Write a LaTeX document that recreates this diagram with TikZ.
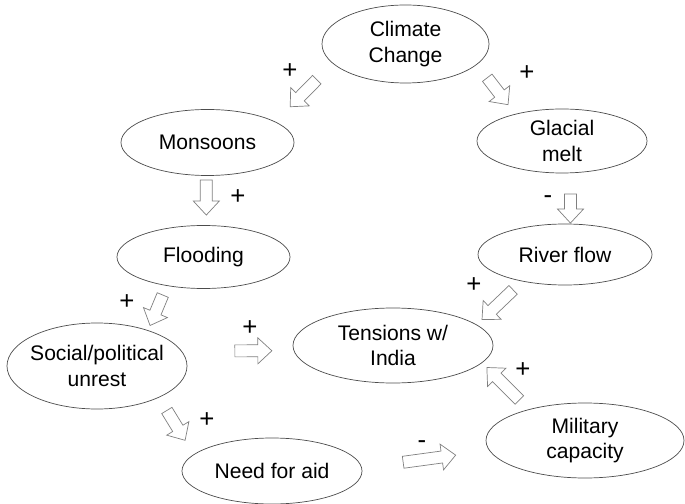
\documentclass[tikz,border=0pt]{standalone}
\usepackage{fontspec}
\setmainfont{Liberation Sans}
\usepackage{tikz}
\usetikzlibrary{calc,shapes.geometric}
\tikzset{barlen/.store in=\barlen, barpos/.store in=\barpos, barlen=35, barpos=0.5}
\tikzstyle{bubble} = [ellipse, draw=black!70, line width=0.6pt, align=center, inner sep=-2cm]
\tikzstyle{sign} = [inner sep=0pt, font=\fontsize{22}{22}\selectfont]
\tikzstyle{barrow} = [draw=black!50, fill=white, line width=0.6pt, miter limit=20,
  to path={let \p1=(\tikztostart), \p2=(\tikztotarget),
    \n1={atan2(\y2-\y1,\x2-\x1)}, \p3=($(\p1)!\barpos!(\p2)$) in
    ($(\p3)+(\n1:-0.5*\barlen)+(\n1+90:6)$) -- ($(\p3)+(\n1:0.5*\barlen-14)+(\n1+90:6)$)
    -- ($(\p3)+(\n1:0.5*\barlen-14)+(\n1+90:13)$) -- ($(\p3)+(\n1:0.5*\barlen)$)
    -- ($(\p3)+(\n1:0.5*\barlen-14)+(\n1-90:13)$) -- ($(\p3)+(\n1:0.5*\barlen-14)+(\n1-90:6)$)
    -- ($(\p3)+(\n1:-0.5*\barlen)+(\n1-90:6)$) -- cycle}]

\begin{document}
\begin{tikzpicture}[x=0.03cm, y=0.03cm, font=\fontsize{18}{21.5}\selectfont]
	\useasboundingbox (0,0) rectangle (685,503);
	\node[bubble, minimum width=5.01cm, minimum height=2.34cm] (cc) at (405.5,459) {Climate\\Change};
	\node[bubble, minimum width=5.19cm, minimum height=1.98cm] (mon) at (207.5,360.5) {Monsoons};
	\node[bubble, minimum width=5.10cm, minimum height=1.92cm] (glac) at (562,362) {Glacial\\melt};
	\node[bubble, minimum width=5.19cm, minimum height=1.89cm] (flood) at (203.5,246) {Flooding};
	\node[bubble, minimum width=5.22cm, minimum height=1.83cm] (river) at (565,248.5) {River flow};
	\node[bubble, minimum width=5.40cm, minimum height=2.58cm] (social) at (97,137) {Social/political\\unrest};
	\node[bubble, minimum width=6.00cm, minimum height=2.25cm] (tens) at (393,157.5) {Tensions w/\\India};
	\node[bubble, minimum width=5.94cm, minimum height=2.25cm] (mil) at (585,62.5) {Military\\capacity};
	\node[bubble, minimum width=5.40cm, minimum height=1.98cm] (need) at (272,32) {Need for aid};

	\node[sign] (plus1) at (290,432) {+};
	\node[sign] (plus2) at (527,430) {+};
	\node[sign] (plus3) at (238,306) {+};
	\node[sign] (minus1) at (548,303) {-};
	\node[sign] (plus4) at (127,201) {+};
	\node[sign] (plus5) at (250,175) {+};
	\node[sign] (plus6) at (474,218) {+};
	\node[sign] (plus7) at (523,133) {+};
	\node[sign] (plus8) at (207,83) {+};
	\node[sign] (minus2) at (422,58) {-};

	\draw[barrow, barlen=38, barpos=0.51] (cc.195) to (mon.17);
	\draw[barrow, barlen=34, barpos=0.54] (cc.344) to (glac.150);
	\draw[barrow, barlen=35, barpos=0.44] (mon.268) to (flood.85);
	\draw[barrow, barlen=29, barpos=0.70] (glac.285) to (river.80);
	\draw[barrow, barlen=33, barpos=0.55] (flood.218) to (social.35);
	\draw[barrow, barlen=37, barpos=0.64] (social.10) to (tens.183);
	\draw[barrow, barlen=43, barpos=0.54] (river.212) to (tens.14);
	\draw[barrow, barlen=46, barpos=0.55] (mil.151) to (tens.349);
	\draw[barrow, barlen=35, barpos=0.49] (social.333) to (need.168);
	\draw[barrow, barlen=53, barpos=0.53] (need.2) to (mil.186);
\end{tikzpicture}
\end{document}
